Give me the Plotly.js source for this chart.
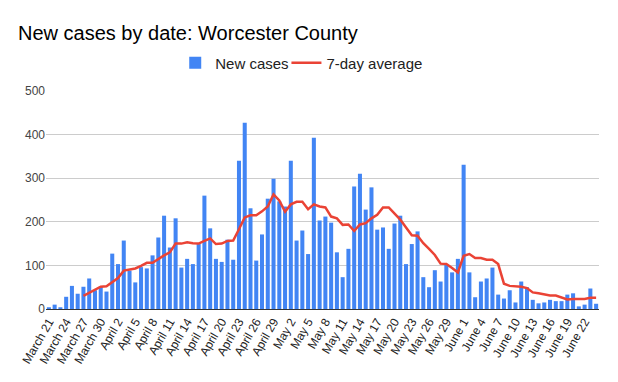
<!DOCTYPE html>
<html>
<head>
<meta charset="utf-8">
<script src="https://cdn.plot.ly/plotly-3.0.1.min.js"></script>
<style>html,body{margin:0;padding:0;background:#fff;}#chart{width:618px;height:382px;}</style>
</head>
<body>
<div id="chart"></div>
<script>
const dates = [
"March 21","March 22","March 23","March 24","March 25","March 26","March 27","March 28","March 29","March 30","March 31",
"April 1","April 2","April 3","April 4","April 5","April 6","April 7","April 8","April 9","April 10",
"April 11","April 12","April 13","April 14","April 15","April 16","April 17","April 18","April 19","April 20",
"April 21","April 22","April 23","April 24","April 25","April 26","April 27","April 28","April 29","April 30",
"May 1","May 2","May 3","May 4","May 5","May 6","May 7","May 8","May 9","May 10",
"May 11","May 12","May 13","May 14","May 15","May 16","May 17","May 18","May 19","May 20",
"May 21","May 22","May 23","May 24","May 25","May 26","May 27","May 28","May 29","May 30","May 31",
"June 1","June 2","June 3","June 4","June 5","June 6","June 7","June 8","June 9","June 10",
"June 11","June 12","June 13","June 14","June 15","June 16","June 17","June 18","June 19","June 20",
"June 21","June 22","June 23","June 24"
];
const newCases = [
4,10,4,28,53,35,51,70,43,51,
40,127,103,157,88,61,96,93,123,164,
214,141,208,95,115,103,149,260,185,115,
108,159,113,340,427,231,111,171,253,299,
247,235,340,157,180,126,393,203,212,198,
130,73,138,281,310,228,279,182,187,138,
196,214,103,149,178,73,50,89,63,101,
84,115,331,84,27,63,70,95,33,24,
43,15,63,50,21,13,15,21,18,18,
33,36,6,10,47,12
];
const avg7 = [
null,null,null,null,null,null,30,37,44,51,
52,62,71,88,90,93,99,106,106,115,
123,130,150,150,153,151,150,156,162,149,
150,156,157,183,210,215,215,224,235,263,
249,223,240,246,246,229,240,235,233,212,
208,193,194,179,194,197,208,216,233,233,
220,205,187,169,168,151,138,124,104,103,
94,84,122,126,117,117,113,113,103,58,
53,52,51,48,38,36,34,31,31,27,
22,23,23,23,26,26
];
const tickLabels = dates.filter((d, i) => i % 3 === 0);

const traces = [
  {type:'bar', name:'New cases', x:dates, y:newCases,
   marker:{color:'#4285F4'}, hoverinfo:'x+y', legend:'legend'},
  {type:'scatter', mode:'lines', name:'7-day average', x:dates, y:avg7,
   line:{color:'#EA4335', width:2.5}, connectgaps:false, legend:'legend2'}
];
const legendFont = {size:15, color:'#222'};
const layout = {
  width:618, height:382,
  margin:{l:46, r:19, t:91, b:73},
  paper_bgcolor:'#fff', plot_bgcolor:'#fff',
  font:{family:'Liberation Sans, Arial, sans-serif', color:'#222', size:12},
  title:{text:'New cases by date: Worcester County', x:18/618, xanchor:'left', xref:'container',
         y:1-33/382, yanchor:'middle', yref:'container',
         font:{size:20, color:'#000', family:'Liberation Sans, Arial, sans-serif'}},
  bargap:0.3,
  showlegend:true,
  legend:{orientation:'h', x:(175-46)/552, xanchor:'left', y:1.128, yanchor:'middle',
          font:legendFont, bgcolor:'rgba(0,0,0,0)'},
  legend2:{orientation:'h', x:(286-46)/552, xanchor:'left', y:1.128, yanchor:'middle',
          font:legendFont, bgcolor:'rgba(0,0,0,0)'},
  xaxis:{type:'category', categoryorder:'array', categoryarray:dates,
         range:[-0.5, dates.length-0.5], tickmode:'array', tickvals:tickLabels, ticktext:tickLabels,
         tickangle:-60, ticks:'', showgrid:false, showline:true, linecolor:'#333', linewidth:1,
         tickfont:{size:12, color:'#222'}, fixedrange:true},
  yaxis:{range:[0,500], dtick:100, showgrid:true, gridcolor:'#ccc', zeroline:false,
         showline:false, ticks:'', tickfont:{size:12, color:'#444'}, fixedrange:true}
};
Plotly.newPlot('chart', traces, layout, {displayModeBar:false, staticPlot:true});
</script>
</body>
</html>
